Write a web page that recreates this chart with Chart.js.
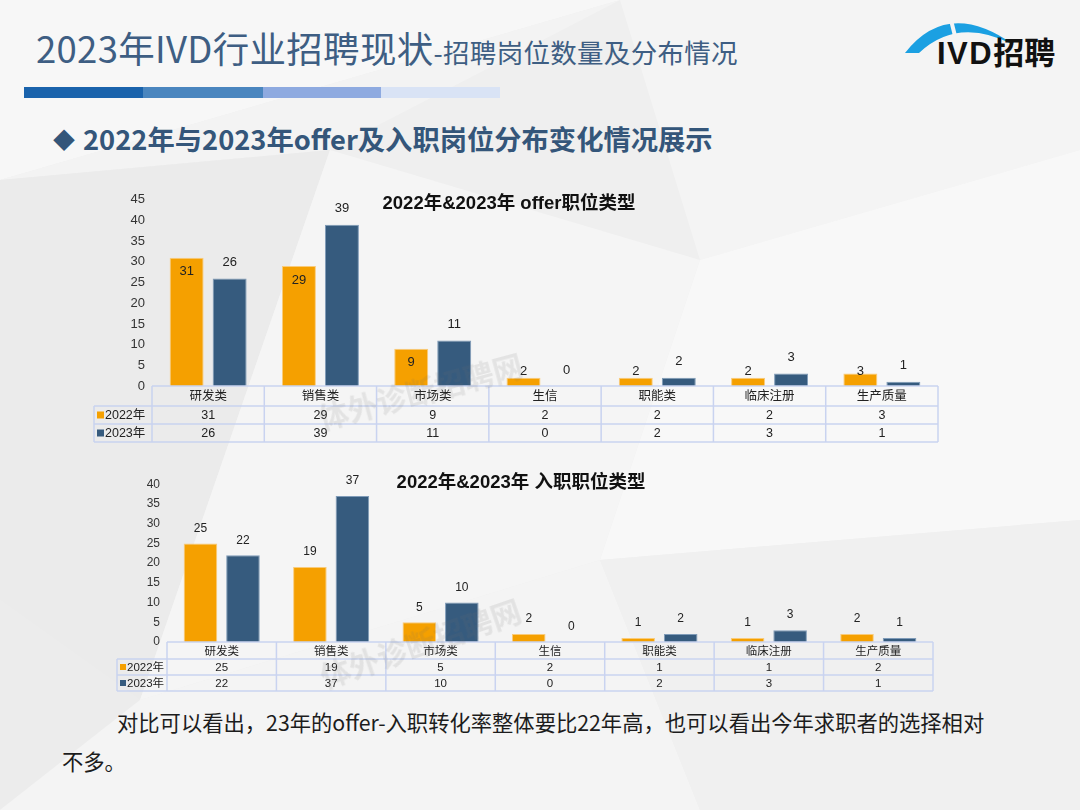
<!DOCTYPE html>
<html>
<head>
<meta charset="utf-8">
<script src="https://cdn.jsdelivr.net/npm/chart.js@4"></script>
<style>
  html,body{margin:0;padding:0;}
  body{width:1080px;height:810px;position:relative;overflow:hidden;background:#efefef;font-family:"Noto Sans CJK SC","Liberation Sans",sans-serif;}
  .abs{position:absolute;}
  #bg{left:0;top:0;}
  #title{left:36px;top:21px;color:#3E5E83;white-space:nowrap;font-weight:400;letter-spacing:0.3px;}
  #title .big{font-size:36.5px;}
  #title .small{font-size:26.5px;}
  .seg{top:87px;height:11px;}
  #sub{left:53px;top:118px;font-size:27.3px;font-weight:700;color:#34567A;white-space:nowrap;}
  #sub .dia{font-size:22px;position:relative;top:-2px;margin-right:8px;}
  .foot{font-size:21.3px;color:#1c1c1c;white-space:nowrap;}
  .wm{font-size:30px;font-weight:700;color:rgba(110,110,110,0.13);white-space:nowrap;pointer-events:none;}
  canvas{position:absolute;}
</style>
</head>
<body>
<svg id="bg" class="abs" width="1080" height="810">
  <polygon points="0,0 620,0 0,180" fill="#f7f7f7"/>
  <polygon points="620,0 1080,0 1080,150 700,260" fill="#f4f4f4"/>
  <polygon points="0,180 620,0 330,150" fill="#f3f3f3"/>
  <polygon points="0,180 330,150 140,700 0,600" fill="#ebebeb"/>
  <polygon points="330,150 700,260 600,560 140,700" fill="#f5f5f5"/>
  <polygon points="700,260 1080,150 1080,520 600,560" fill="#f8f8f8"/>
  <polygon points="0,600 140,700 0,810" fill="#ececec"/>
  <polygon points="140,700 600,560 700,810 0,810" fill="#f4f4f4"/>
  <polygon points="600,560 1080,520 1080,810 700,810" fill="#f0f0f0"/>
  <!-- logo arc -->
  <path d="M905,53 Q948,-2 1014,45 Q958,16 919,53 Z" fill="#1BA0E2"/>
  <line x1="949" y1="12" x2="956" y2="40" stroke="#f4f4f4" stroke-width="4"/>
  <text x="937" y="64" font-family="Liberation Sans, Noto Sans CJK SC" font-weight="700" font-size="31" letter-spacing="1.5" fill="#111">IVD<tspan font-family="Noto Sans CJK SC" letter-spacing="0">招聘</tspan></text>
</svg>

<div id="title" class="abs"><span class="big">2023年IVD行业招聘现状</span><span class="small">-招聘岗位数量及分布情况</span></div>
<div class="abs seg" style="left:24px;width:119px;background:#1A63AC"></div>
<div class="abs seg" style="left:143px;width:120px;background:#4A86BF"></div>
<div class="abs seg" style="left:263px;width:118px;background:#8EAAE0"></div>
<div class="abs seg" style="left:381px;width:119px;background:#D9E3F5"></div>
<div id="sub" class="abs"><span class="dia">◆</span>2022年与2023年offer及入职岗位分布变化情况展示</div>

<canvas id="c1" width="855" height="265" style="left:90px;top:185px"></canvas>
<canvas id="c2" width="850" height="230" style="left:100px;top:470px"></canvas>

<div class="abs wm" style="left:315px;top:368px;transform:rotate(-15deg);">体外诊断招聘网</div>
<div class="abs wm" style="left:315px;top:620px;transform:rotate(-19deg);">体外诊断招聘网</div>

<div class="abs foot" style="left:117px;top:706px;">对比可以看出，23年的offer-入职转化率整体要比22年高，也可以看出今年求职者的选择相对</div>
<div class="abs foot" style="left:62px;top:745px;">不多。</div>

<script>
// ---------- data ----------
const categories = ['研发类','销售类','市场类','生信','职能类','临床注册','生产质量'];
const seriesNames = ['2022年','2023年'];
const offer2022 = [31,29,9,2,2,2,3];
const offer2023 = [26,39,11,0,2,3,1];
const hire2022 = [25,19,5,2,1,1,2];
const hire2023 = [22,37,10,0,2,3,1];
const offerTitle = '2022年&2023年 offer职位类型';
const hireTitle = '2022年&2023年 入职职位类型';
const offerMax = 45, hireMax = 40, tickStep = 5;

const ORANGE = '#F5A000', ORANGE_B = '#F9CB7A';
const BLUE = '#365B7E', BLUE_B = '#7F9BB8';
const FONT = '"Liberation Sans","Noto Sans CJK SC",sans-serif';

// plugin: title, value labels, data table
const extras = {
  id: 'extras',
  afterDatasetsDraw(chart, args, o) {
    const ctx = chart.ctx, ca = chart.chartArea, xs = chart.scales.x;
    ctx.save();
    // title
    ctx.fillStyle = '#111';
    ctx.font = '700 ' + o.titleSize + 'px ' + FONT;
    ctx.textAlign = 'center'; ctx.textBaseline = 'middle';
    ctx.fillText(o.title, o.titleX, o.titleY);
    // value labels
    ctx.font = o.labelSize + 'px ' + FONT;
    ctx.fillStyle = '#222';
    chart.data.datasets.forEach((ds, di) => {
      const meta = chart.getDatasetMeta(di);
      meta.data.forEach((bar, i) => {
        let y;
        if (di === 0 && o.insideFirst) y = Math.min(bar.y + 14, bar.base - 15);
        else y = bar.y - o.labelGap;
        ctx.fillText(String(ds.data[i]), bar.x, y);
      });
    });
    // table
    const n = chart.data.labels.length;
    const top = ca.bottom, h0 = o.headH, h1 = o.rowH;
    const bounds = [ca.left];
    for (let i = 0; i < n - 1; i++) bounds.push((xs.getPixelForValue(i) + xs.getPixelForValue(i + 1)) / 2);
    bounds.push(ca.right);
    const labL = o.labelLeft;
    const bottom = top + h0 + 2 * h1;
    ctx.strokeStyle = '#C9D3F0'; ctx.lineWidth = 1.5;
    ctx.beginPath();
    ctx.moveTo(ca.left, top); ctx.lineTo(ca.right, top);
    [top + h0, top + h0 + h1, bottom].forEach(y => { ctx.moveTo(labL, y); ctx.lineTo(ca.right, y); });
    ctx.moveTo(labL, top + h0); ctx.lineTo(labL, bottom);
    bounds.forEach(x => { ctx.moveTo(x, top); ctx.lineTo(x, bottom); });
    ctx.stroke();
    ctx.fillStyle = '#222';
    ctx.font = o.tableSize + 'px ' + FONT;
    chart.data.labels.forEach((lab, i) => {
      const cx = (bounds[i] + bounds[i + 1]) / 2;
      ctx.fillText(lab, cx, top + h0 / 2 + 1);
      chart.data.datasets.forEach((ds, di) => {
        ctx.fillText(String(ds.data[i]), cx, top + h0 + h1 * di + h1 / 2 + 1);
      });
    });
    chart.data.datasets.forEach((ds, di) => {
      const cy = top + h0 + h1 * di + h1 / 2;
      ctx.fillStyle = ds.backgroundColor;
      ctx.fillRect(labL + 3, cy - o.sq / 2, o.sq, o.sq);
      ctx.fillStyle = '#222';
      ctx.textAlign = 'left';
      ctx.fillText(ds.label, labL + 4 + o.sq, cy + 1);
      ctx.textAlign = 'center';
    });
    ctx.restore();
  }
};

function makeChart(id, d1, d2, max, yWidth, pad, catPct, opts) {
  return new Chart(document.getElementById(id), {
    type: 'bar',
    data: {
      labels: categories,
      datasets: [
        { label: seriesNames[0], data: d1, backgroundColor: ORANGE, borderColor: ORANGE_B, borderWidth: 1 },
        { label: seriesNames[1], data: d2, backgroundColor: BLUE, borderColor: BLUE_B, borderWidth: 1 }
      ]
    },
    options: {
      responsive: false, animation: false, devicePixelRatio: 1,
      categoryPercentage: catPct, barPercentage: 0.79,
      layout: { padding: pad },
      plugins: { legend: { display: false }, tooltip: { enabled: false }, title: { display: false }, extras: opts },
      scales: {
        x: { display: false },
        y: {
          min: 0, max: max,
          ticks: { stepSize: tickStep, color: '#333', font: { family: FONT, size: opts.tickSize }, padding: 7 },
          grid: { display: false, drawTicks: false },
          border: { display: false },
          afterFit(s) { s.width = yWidth; }
        }
      }
    },
    plugins: [extras]
  });
}

makeChart('c1', offer2022, offer2023, offerMax, 62, { top: 11, bottom: 64, right: 7, left: 0 }, 0.766,
  { title: offerTitle, titleX: 419, titleY: 19, titleSize: 18.5, labelSize: 13, tickSize: 13, labelGap: 16,
    insideFirst: true, headH: 20, rowH: 18, labelLeft: 4, tableSize: 12.5, sq: 7 });
makeChart('c2', hire2022, hire2023, hireMax, 67, { top: 13, bottom: 58, right: 17, left: 0 }, 0.777,
  { title: hireTitle, titleX: 421, titleY: 13, titleSize: 18.5, labelSize: 12, tickSize: 12, labelGap: 15,
    insideFirst: false, headH: 17, rowH: 16, labelLeft: 17, tableSize: 11.5, sq: 6 });
</script>
</body>
</html>
